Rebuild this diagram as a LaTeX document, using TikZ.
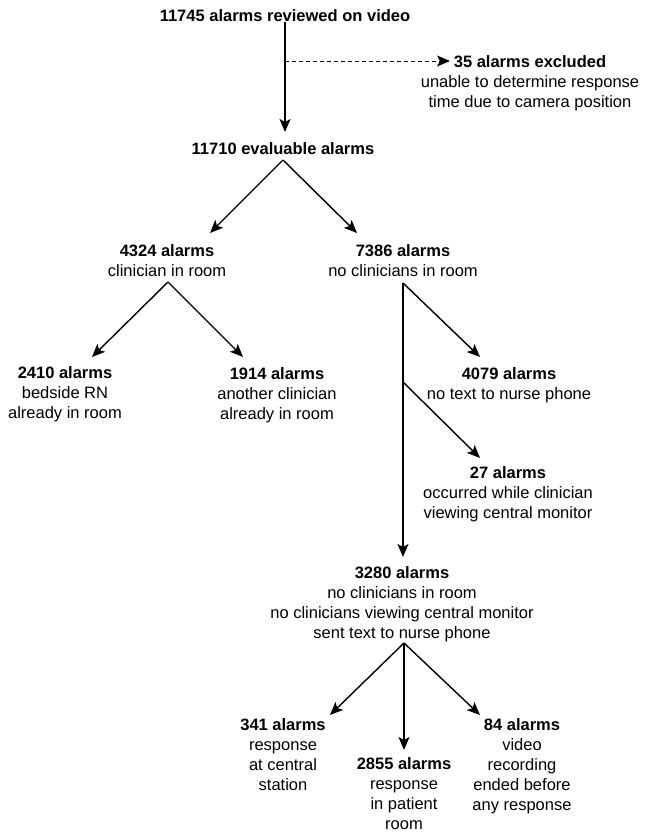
\documentclass[tikz,border=0pt]{standalone}
\usepackage{fontspec}
\setmainfont{Liberation Sans}
\usetikzlibrary{arrows.meta}
\begin{document}
\begin{tikzpicture}[x=1pt,y=-1pt,
  lbl/.style={align=center, inner sep=0pt, anchor=north, font=\fontsize{16.5}{20}\selectfont},
  arr/.style={-{Stealth[length=13pt,width=11pt,inset=3pt]}, line width=1.4pt},
  darr/.style={-{Stealth[length=13pt,width=11pt,inset=3pt]}, line width=1pt, dash pattern=on 4pt off 3pt},
]
\useasboundingbox (0,0) rectangle (649,839);
% nodes
\node[lbl] (top) at (285,9) {\textbf{11745 alarms reviewed on video}};
\node[lbl] (excl) at (530,55) {\textbf{35 alarms excluded}\\unable to determine response\\time due to camera position};
\node[lbl] (eval) at (283,142) {\textbf{11710 evaluable alarms}};
\node[lbl] (a4324) at (167,244) {\textbf{4324 alarms}\\clinician in room};
\node[lbl] (a7386) at (403,244) {\textbf{7386 alarms}\\no clinicians in room};
\node[lbl] (a2410) at (65,366) {\textbf{2410 alarms}\\bedside RN\\already in room};
\node[lbl] (a1914) at (277,367) {\textbf{1914 alarms}\\another clinician\\already in room};
\node[lbl] (a4079) at (509,367) {\textbf{4079 alarms}\\no text to nurse phone};
\node[lbl] (a27) at (508,466) {\textbf{27 alarms}\\occurred while clinician\\viewing central monitor};
\node[lbl] (a3280) at (402,566) {\textbf{3280 alarms}\\no clinicians in room\\no clinicians viewing central monitor\\sent text to nurse phone};
\node[lbl] (a341) at (283,718) {\textbf{341 alarms}\\response\\at central\\station};
\node[lbl] (a2855) at (404,757) {\textbf{2855 alarms}\\response\\in patient\\room};
\node[lbl] (a84) at (522,718) {\textbf{84 alarms}\\video\\recording\\ended before\\any response};
% junction and tip coordinates
\coordinate (teval) at (285,132);
\coordinate (d0) at (285,61);
\coordinate (d1) at (450,61);
\coordinate (p1) at (283,160);
\coordinate (t4324) at (210,233);
\coordinate (t7386) at (357,233);
\coordinate (p2) at (168,282);
\coordinate (t2410) at (92,357);
\coordinate (t1914) at (243,357);
\coordinate (p3) at (403,283);
\coordinate (t4079) at (480,357);
\coordinate (p4) at (403,382);
\coordinate (t27) at (480,458);
\coordinate (t3280) at (403,557);
\coordinate (p5) at (404,643);
\coordinate (t341) at (330,715);
\coordinate (t2855) at (404,750);
\coordinate (t84) at (480,715);
% connectors
\draw[arr] (top.south) -- (teval);
\draw[darr] (d0) -- (d1);
\draw[arr] (p1) -- (t4324);
\draw[arr] (p1) -- (t7386);
\draw[arr] (p2) -- (t2410);
\draw[arr] (p2) -- (t1914);
\draw[arr] (p3) -- (t3280);
\draw[arr] (p3) -- (t4079);
\draw[arr] (p4) -- (t27);
\draw[arr] (p5) -- (t341);
\draw[arr] (p5) -- (t2855);
\draw[arr] (p5) -- (t84);
\end{tikzpicture}
\end{document}
